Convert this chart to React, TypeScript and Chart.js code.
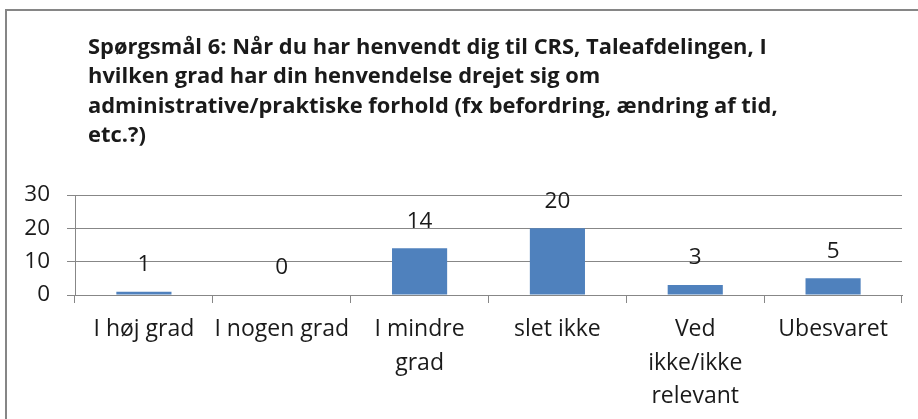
import React, { useEffect, useRef } from "react";
import { Chart, registerables } from "chart.js";

Chart.register(...registerables);

const titleLines = [
  "Spørgsmål 6: Når du har henvendt dig til CRS, Taleafdelingen, I",
  "hvilken grad har din henvendelse drejet sig om",
  "administrative/praktiske forhold (fx befordring, ændring af tid,",
  "etc.?)",
];
const categories: (string | string[])[] = [
  "I høj grad",
  "I nogen grad",
  ["I mindre", "grad"],
  "slet ikke",
  ["Ved", "ikke/ikke", "relevant"],
  "Ubesvaret",
];
const values = [1, 0, 14, 20, 3, 5];
const yTicks = [0, 10, 20, 30];

const FONT = "'Open Sans', Lato, sans-serif";
const TEXT = "#1a1a1a";
const GRID = "#878787";
const BAR = "#4F81BD";

const titlePlugin = {
  id: "customTitle",
  afterDraw(chart: any) {
    const ctx = chart.ctx;
    ctx.save();
    ctx.fillStyle = TEXT;
    ctx.font = `bold 21.9px ${FONT}`;
    ctx.textAlign = "left";
    ctx.textBaseline = "alphabetic";
    titleLines.forEach((line, i) => {
      ctx.fillText(line, 88, 53.5 + i * 29.5);
    });
    ctx.restore();
  },
};

const valueLabelPlugin = {
  id: "valueLabels",
  afterDatasetsDraw(chart: any) {
    const ctx = chart.ctx;
    const meta = chart.getDatasetMeta(0);
    ctx.save();
    ctx.fillStyle = TEXT;
    ctx.font = `22.5px ${FONT}`;
    ctx.textAlign = "center";
    ctx.textBaseline = "middle";
    meta.data.forEach((bar: any, i: number) => {
      ctx.fillText(String(values[i]), bar.x, bar.y - 27);
    });
    ctx.restore();
  },
};

export default function App() {
  const ref = useRef<HTMLCanvasElement>(null);
  useEffect(() => {
    if (!ref.current) return;
    const chart = new Chart(ref.current, {
      type: "bar",
      data: {
        labels: categories,
        datasets: [
          {
            data: values,
            backgroundColor: BAR,
            barPercentage: 0.4,
            categoryPercentage: 1,
          },
        ],
      },
      options: {
        animation: false,
        responsive: false,
        maintainAspectRatio: false,
        layout: { padding: { top: 195, right: 16, left: 0, bottom: 0 } },
        plugins: {
          legend: { display: false },
          tooltip: { enabled: false },
          title: { display: false },
        },
        scales: {
          x: {
            afterFit(scale: any) {
              scale.height = 124;
            },
            grid: {
              display: true,
              offset: true,
              drawOnChartArea: false,
              drawTicks: true,
              tickLength: 8,
              color: GRID,
              lineWidth: 1,
            },
            border: { display: true, color: GRID, width: 1 },
            ticks: {
              color: TEXT,
              font: { family: FONT, size: 23, lineHeight: 1.45 },
              padding: 10,
              maxRotation: 0,
              autoSkip: false,
            },
          },
          y: {
            min: 0,
            max: 30,
            afterFit(scale: any) {
              scale.width = 75;
            },
            afterBuildTicks(scale: any) {
              scale.ticks = yTicks.map((v) => ({ value: v }));
            },
            grid: {
              color: GRID,
              lineWidth: 1,
              drawTicks: true,
              tickLength: 8,
            },
            border: { display: true, color: GRID, width: 1 },
            ticks: {
              color: TEXT,
              font: { family: FONT, size: 22.5 },
              padding: 17,
            },
          },
        },
      },
      plugins: [titlePlugin, valueLabelPlugin],
    });
    return () => chart.destroy();
  }, []);

  return (
    <div
      style={{
        position: "fixed",
        left: 0,
        top: 0,
        width: 918,
        height: 419,
        overflow: "hidden",
        background: "#fff",
      }}
    >
      <div
        style={{
          position: "absolute",
          left: 5,
          top: 9,
          width: 2000,
          height: 2000,
          border: "2px solid #868686",
          boxSizing: "border-box",
        }}
      />
      <canvas
        ref={ref}
        width={918}
        height={419}
        style={{ position: "absolute", left: 0, top: 0, width: 918, height: 419 }}
      />
    </div>
  );
}
